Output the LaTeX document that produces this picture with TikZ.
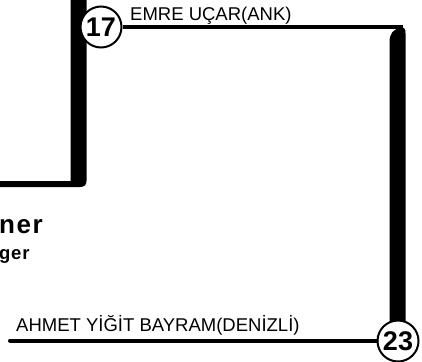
\documentclass[tikz,border=0pt]{standalone}
\usepackage{fontspec}
\setmainfont{Liberation Sans}
\newfontfamily\spacedA[LetterSpace=6]{Liberation Sans}
\newfontfamily\spacedB[LetterSpace=4]{Liberation Sans}
\pgfdeclareradialshading{medal}{\pgfpoint{-9bp}{9bp}}{color(0bp)=(white); color(32bp)=(white); color(52bp)=(black!42); color(80bp)=(black!42)}
\begin{document}
\begin{tikzpicture}[x=1pt,y=-1pt,
  medalnode/.style={circle, draw=black, line width=2pt, shading=medal, minimum size=41pt, inner sep=0pt, font=\fontsize{27}{27}\selectfont\bfseries},
  thinline/.style={line width=4pt},
  namelabel/.style={anchor=base west, inner sep=0pt, font=\fontsize{18.5}{22}\selectfont},
  barfill/.style={fill=black}]
\useasboundingbox (0,0) rectangle (422,361);
\clip (0,0) rectangle (422,361);
% thick bars
\fill[barfill] (70.5,-5) -- (70.5,181) -- (-5,181) -- (-5,187) -- (80,187) .. controls (84,187) and (86.5,185) .. (86.5,181) -- (86.5,-5) -- cycle;
\fill[barfill] (389.5,345) -- (389.5,42) .. controls (389.5,33) and (394,29) .. (400,28) -- (404,28) .. controls (405.5,30) .. (405.5,34) -- (405.5,345) -- cycle;
% medals
\node[medalnode] (c17) at (101,27) {17};
\node[medalnode] (c23) at (398,341) {23};
% connectors
\coordinate (tr) at (401,30);
\coordinate (bl) at (10,340.5);
\draw[thinline] (c17) -- (c17 -| tr) -- (tr);
\draw[thinline, line cap=round] (bl) -- (bl -| c23.west);
% labels
\node[namelabel] (emre) at (130,20.5) {EMRE UÇAR(ANK)};
\node[namelabel] (ahmet) at (16,331) {AHMET YİĞİT BAYRAM(DENİZLİ)};
\node[anchor=base west, inner sep=0pt, font=\spacedA\fontsize{26}{26}\selectfont\bfseries] (ner) at (-1,233) {ner};
\node[anchor=base west, inner sep=0pt, font=\spacedB\fontsize{18.5}{18.5}\selectfont\bfseries] (ger) at (-1,259) {ger};
\end{tikzpicture}
\end{document}
